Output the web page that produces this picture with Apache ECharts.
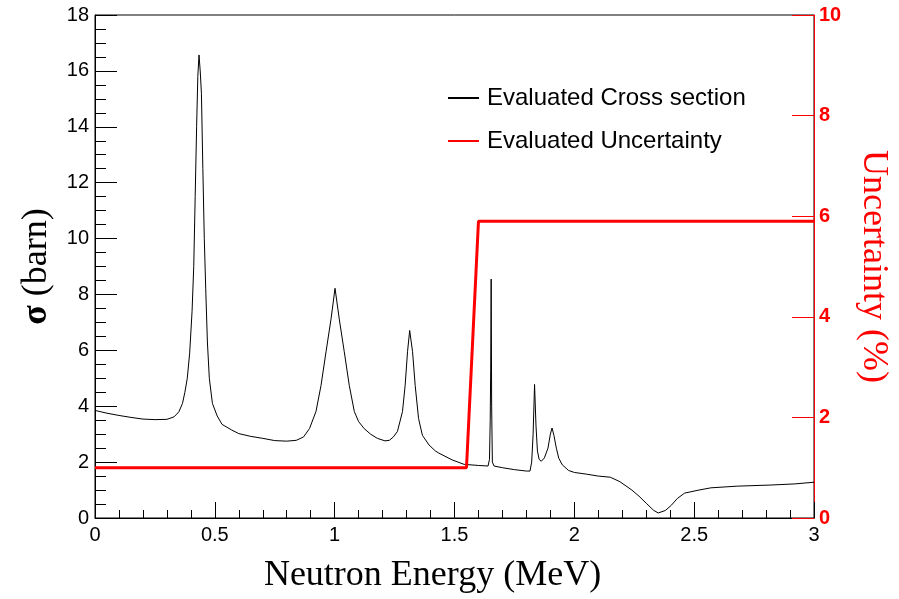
<!DOCTYPE html>
<html>
<head>
<meta charset="utf-8">
<title>Cross section</title>
<script src="https://cdn.jsdelivr.net/npm/echarts@6/dist/echarts.min.js"></script>
<style>
    html, body { margin: 0; padding: 0; background: #fff; }
    #chart { width: 899px; height: 599px; }
</style>
</head>
<body>
<div id="chart"></div>
<script>
// neutron energy (MeV) and evaluated cross section (barn)
var energy = [
    0.00, 0.05, 0.10, 0.15, 0.20, 0.25, 0.30, 0.33, 0.35, 0.365,
    0.375, 0.385, 0.395, 0.405, 0.412, 0.418, 0.424, 0.429, 0.434, 0.439,
    0.444, 0.45, 0.456, 0.462, 0.469, 0.477, 0.49, 0.51, 0.53, 0.57,
    0.60, 0.65, 0.70, 0.75, 0.80, 0.84, 0.87, 0.895, 0.922, 0.943,
    0.964, 0.985, 1.0015, 1.019, 1.04, 1.061, 1.082, 1.10, 1.123, 1.15,
    1.178, 1.21, 1.228, 1.245, 1.262, 1.283, 1.294, 1.304, 1.313, 1.325,
    1.336, 1.35, 1.366, 1.394, 1.42, 1.435, 1.49, 1.54, 1.60, 1.64,
    1.646, 1.649, 1.651, 1.653, 1.655, 1.658, 1.665, 1.70, 1.75, 1.80,
    1.815, 1.822, 1.828, 1.834, 1.840, 1.846, 1.853, 1.862, 1.875, 1.89,
    1.90, 1.907, 1.915, 1.925, 1.935, 1.95, 1.976, 2.00, 2.05, 2.10,
    2.15, 2.19, 2.24, 2.27, 2.30, 2.33, 2.35, 2.38, 2.405, 2.43,
    2.46, 2.52, 2.57, 2.68, 2.82, 2.92, 3.00
];
var sigma = [
    3.85, 3.75, 3.67, 3.60, 3.54, 3.52, 3.53, 3.62, 3.80, 4.10,
    4.50, 5.00, 5.90, 7.40, 9.00, 11.5, 14.0, 15.8, 16.57, 16.0,
    15.2, 12.5, 10.0, 8.20, 6.30, 5.00, 4.10, 3.65, 3.35, 3.15,
    3.02, 2.92, 2.85, 2.77, 2.75, 2.78, 2.90, 3.20, 3.81, 4.74,
    5.95, 7.13, 8.22, 7.13, 5.95, 4.74, 3.81, 3.45, 3.20, 3.00,
    2.85, 2.76, 2.78, 2.90, 3.10, 3.81, 4.74, 5.95, 6.71, 5.95,
    4.74, 3.56, 2.96, 2.61, 2.40, 2.32, 2.08, 1.92, 1.88, 1.86,
    2.10, 3.50, 5.30, 8.55, 4.00, 2.00, 1.86, 1.80, 1.73, 1.68,
    1.68, 2.00, 3.00, 4.78, 3.30, 2.40, 2.10, 2.03, 2.15, 2.50,
    3.00, 3.22, 2.95, 2.50, 2.14, 1.90, 1.70, 1.63, 1.57, 1.50,
    1.46, 1.30, 1.00, 0.78, 0.53, 0.28, 0.18, 0.27, 0.46, 0.70,
    0.89, 1.00, 1.08, 1.14, 1.18, 1.22, 1.28
];

// evaluated uncertainty (%)
var uncEnergy = [0, 1.55, 1.6, 3];
var uncValue = [1.0, 1.0, 5.9, 5.9];

var crossData = energy.map(function (e, i) { return [e, sigma[i]]; });
var uncData = uncEnergy.map(function (e, i) { return [e, uncValue[i]]; });

var sans = 'Liberation Sans';
var serif = 'Liberation Serif';

var myChart = echarts.init(document.getElementById('chart'));
var option = {
    backgroundColor: '#fff',
    animation: false,
    grid: {
        left: 95,
        right: 83,
        top: 15,
        bottom: 79,
        show: true,
        borderColor: '#000',
        borderWidth: 1,
        backgroundColor: 'transparent'
    },
    legend: {
        orient: 'vertical',
        left: 447,
        top: 86,
        padding: 0,
        itemWidth: 31,
        itemHeight: 14,
        itemGap: 19,
        itemStyle: { opacity: 0 },
        textStyle: {
            fontFamily: sans,
            fontSize: 24,
            lineHeight: 24,
            color: '#000',
            padding: [0, 0, 0, 3]
        },
        data: ['Evaluated Cross section', 'Evaluated Uncertainty']
    },
    xAxis: {
        type: 'value',
        min: 0,
        max: 3,
        interval: 0.5,
        name: 'Neutron Energy (MeV)',
        nameLocation: 'middle',
        nameGap: 40,
        nameTextStyle: {
            fontFamily: serif,
            fontSize: 36,
            color: '#000',
            padding: [0, 44, 0, 0]
        },
        axisLine: { lineStyle: { color: '#000', width: 1 } },
        axisTick: { inside: true, length: 16, lineStyle: { color: '#000' } },
        minorTick: { show: true, splitNumber: 5, length: 8, lineStyle: { color: '#000' } },
        axisLabel: { fontFamily: sans, fontSize: 20, color: '#000', margin: 7 },
        splitLine: { show: false }
    },
    yAxis: [{
        type: 'value',
        min: 0,
        max: 18,
        interval: 2,
        name: '{b|σ} (barn)',
        nameLocation: 'middle',
        nameGap: 40,
        nameTextStyle: {
            fontFamily: serif,
            fontSize: 36,
            color: '#000',
            rich: {
                b: { fontFamily: serif, fontSize: 36, fontWeight: 'bold', color: '#000' }
            }
        },
        axisLine: { show: true, lineStyle: { color: '#000', width: 1 } },
        axisTick: { inside: true, length: 22, lineStyle: { color: '#000' } },
        minorTick: { show: true, splitNumber: 4, length: 11, lineStyle: { color: '#000' } },
        axisLabel: { fontFamily: sans, fontSize: 20, color: '#000', margin: 6 },
        splitLine: { show: false }
    }, {
        type: 'value',
        position: 'right',
        min: 0,
        max: 10,
        interval: 2,
        name: 'Uncertainty (%)',
        nameLocation: 'middle',
        nameGap: 41,
        nameRotate: -90,
        nameTextStyle: {
            fontFamily: serif,
            fontSize: 36,
            color: '#ff0000'
        },
        axisLine: { show: true, lineStyle: { color: '#ff0000', width: 1 } },
        axisTick: { show: true, inside: true, length: 22, lineStyle: { color: '#ff0000' } },
        axisLabel: { fontFamily: sans, fontSize: 20, fontWeight: 'bold', color: '#ff0000', margin: 5 },
        splitLine: { show: false }
    }],
    series: [{
        name: 'Evaluated Cross section',
        type: 'line',
        yAxisIndex: 0,
        symbol: 'none',
        color: '#000',
        lineStyle: { color: '#000', width: 1 },
        data: crossData
    }, {
        name: 'Evaluated Uncertainty',
        type: 'line',
        yAxisIndex: 1,
        symbol: 'none',
        color: '#ff0000',
        lineStyle: { color: '#ff0000', width: 3 },
        data: uncData
    }]
};
myChart.setOption(option);
</script>
</body>
</html>
